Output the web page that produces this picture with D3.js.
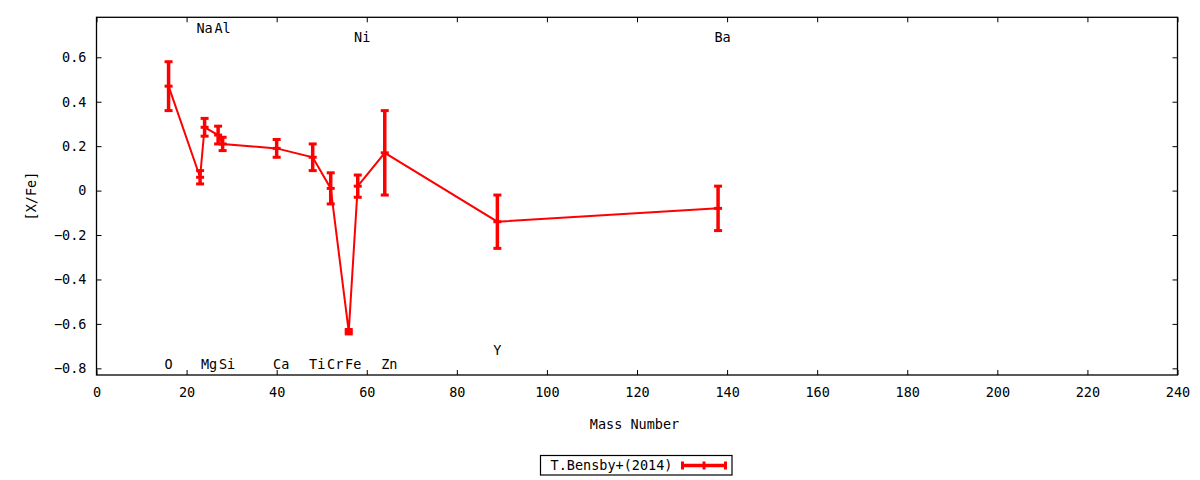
<!DOCTYPE html>
<html>
<head>
<meta charset="utf-8">
<script src="https://cdn.jsdelivr.net/npm/d3@7"></script>
<style>
  body { margin: 0; background: #fff; }
  text { font-family: "DejaVu Sans Mono", monospace; font-size: 13.5px; fill: #000; }
</style>
</head>
<body>
<div id="chart"></div>
<script>
const width = 1200;
const height = 480;
const margin = { left: 96.5, right: 22.5, top: 17.3, bottom: 105 };

// T.Bensby+(2014)
const elements = ['O', 'Na', 'Mg', 'Al', 'Si', 'Ca', 'Ti', 'Cr', 'Fe', 'Ni', 'Zn', 'Y', 'Ba'];
const mass     = [16, 23, 24, 27, 28, 40, 48, 52, 56, 58, 64, 89, 138];
const xfe      = [0.47, 0.06, 0.285, 0.25, 0.21, 0.19, 0.15, 0.01, -0.635, 0.02, 0.17, -0.14, -0.08];
const err      = [0.11, 0.03, 0.04, 0.04, 0.03, 0.04, 0.06, 0.07, 0.01, 0.05, 0.19, 0.12, 0.10];
// where each element name sits (in [X/Fe] units)
const label_y  = [-0.78, 0.73, -0.78, 0.73, -0.78, -0.78, -0.78, -0.78, -0.78, 0.69, -0.78, -0.72, 0.69];

const x_ticks = d3.range(0, 241, 20);
const y_ticks = [-0.8, -0.6, -0.4, -0.2, 0, 0.2, 0.4, 0.6];

const w = width - margin.left - margin.right;
const h = height - margin.top - margin.bottom;

const svg = d3.select('#chart')
  .append('svg')
    .attr('width', width)
    .attr('height', height)
  .append('g')
    .attr('transform', `translate(${margin.left},${margin.top})`);

const x = d3.scaleLinear().domain([0, 240]).range([0, w]);
const y = d3.scaleLinear().domain([-0.83, 0.78]).range([h, 0]);

// axes, ticks pointing inward and mirrored like gnuplot
let fmt = d => d === 0 ? '0' : d3.format('.1f')(d);
svg.append('g')
  .attr('transform', `translate(0,${h})`)
  .call(d3.axisBottom(x).tickValues(x_ticks).tickSizeInner(-5).tickSizeOuter(0).tickPadding(12))
svg.append('g')
  .call(d3.axisTop(x).tickValues(x_ticks).tickSizeInner(-5).tickSizeOuter(0).tickFormat(''))
svg.append('g')
  .call(d3.axisLeft(y).tickValues(y_ticks).tickSizeInner(-5).tickSizeOuter(0).tickPadding(10).tickFormat(fmt))
svg.append('g')
  .attr('transform', `translate(${w},0)`)
  .call(d3.axisRight(y).tickValues(y_ticks).tickSizeInner(-5).tickSizeOuter(0).tickFormat(''))
svg.selectAll('.domain').remove();
svg.selectAll('.tick line').attr('stroke', '#000');
svg.selectAll('.tick text').style('font-family', '"DejaVu Sans Mono", monospace').style('font-size', '13.5px');

svg.append('rect')
  .attr('width', w).attr('height', h)
  .attr('fill', 'none').attr('stroke', '#000').attr('stroke-width', 1.3);

// axis titles
svg.append('text')
  .attr('x', 538).attr('y', 412)
  .attr('text-anchor', 'middle')
  .text('Mass Number');
svg.append('text')
  .attr('transform', `translate(${31 - margin.left},${196 - margin.top}) rotate(-90)`)
  .attr('text-anchor', 'middle')
  .attr('dy', '0.35em')
  .text('[X/Fe]');

// element names
svg.selectAll('.elem')
  .data(elements)
  .enter().append('text')
    .attr('class', 'elem')
    .attr('x', (d, i) => x(mass[i]) + (d.length - 1) * 4.5)
    .attr('y', (d, i) => y(label_y[i]))
    .attr('dy', '0.35em')
    .attr('text-anchor', 'middle')
    .text(d => d);

// data line + error bars
const red = '#ff0000';
const pts = mass.map((m, i) => [x(m), y(xfe[i])]);
svg.append('path')
  .attr('d', d3.line()(pts))
  .attr('fill', 'none')
  .attr('stroke', red)
  .attr('stroke-width', 2);

const cap = 4;
const bars = svg.append('g').attr('stroke', red);
mass.forEach((m, i) => {
  const cx = x(m);
  const top = y(xfe[i] + err[i]);
  const bot = y(xfe[i] - err[i]);
  bars.append('line').attr('x1', cx).attr('x2', cx).attr('y1', top).attr('y2', bot).attr('stroke-width', 3.5);
  [top, bot, y(xfe[i])].forEach(yy => {
    bars.append('line').attr('x1', cx - cap).attr('x2', cx + cap).attr('y1', yy).attr('y2', yy).attr('stroke-width', 3);
  });
});

// legend
const lg = svg.append('g').attr('transform', `translate(${540.5 - margin.left},${455.5 - margin.top})`);
lg.append('rect')
  .attr('width', 191.5).attr('height', 19.5)
  .attr('fill', '#fff').attr('stroke', '#000').attr('stroke-width', 1.2);
lg.append('text')
  .attr('x', 132).attr('y', 10)
  .attr('dy', '0.35em')
  .attr('text-anchor', 'end')
  .text('T.Bensby+(2014)');
lg.append('line').attr('x1', 142).attr('x2', 185).attr('y1', 10).attr('y2', 10)
  .attr('stroke', red).attr('stroke-width', 3.5);
[142, 163.5, 185].forEach(lx => {
  lg.append('line').attr('x1', lx).attr('x2', lx).attr('y1', 6).attr('y2', 14)
    .attr('stroke', red).attr('stroke-width', 3);
});
</script>
</body>
</html>
